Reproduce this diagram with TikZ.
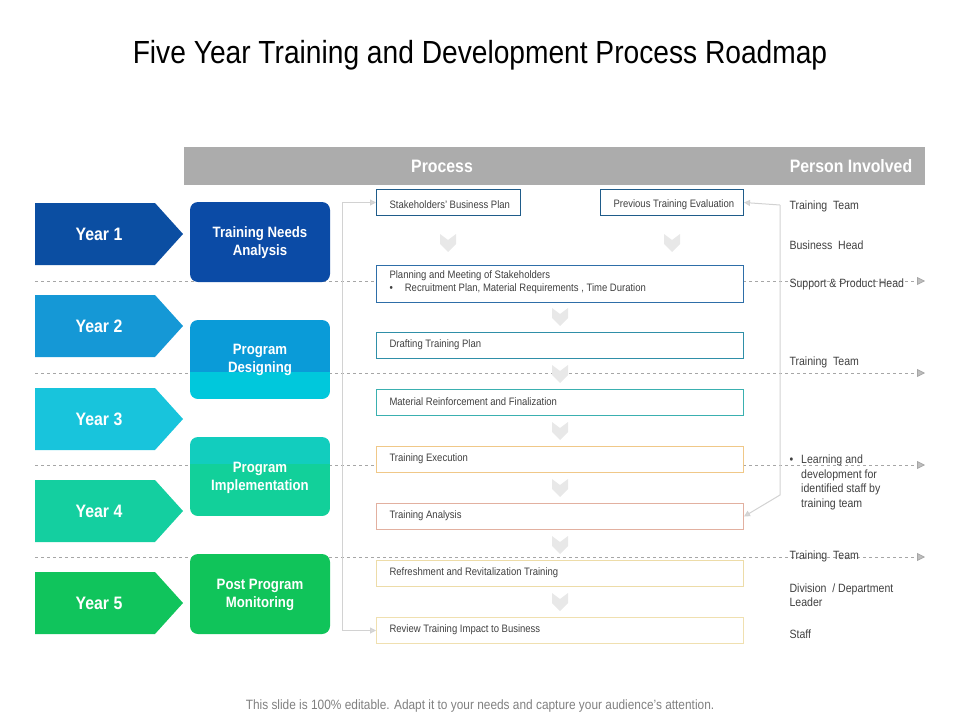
\documentclass[tikz,border=0pt]{standalone}
\usepackage{fontspec}
\setmainfont{Liberation Sans}[FakeStretch=0.88]
\usetikzlibrary{arrows.meta}
\definecolor{txt}{HTML}{404040}
\definecolor{ya}{HTML}{0B4EA2}\definecolor{yb}{HTML}{1598D6}\definecolor{yc}{HTML}{18C4DC}
\definecolor{yd}{HTML}{14CFA0}\definecolor{ye}{HTML}{10C45C}
\definecolor{pa}{HTML}{0B4BA6}\definecolor{pb1}{HTML}{0A9BD8}\definecolor{pb2}{HTML}{00C8DC}
\definecolor{pc1}{HTML}{12CDBE}\definecolor{pc2}{HTML}{12D09A}\definecolor{pd}{HTML}{10C45A}
\definecolor{ba}{HTML}{1F5C8A}\definecolor{bb}{HTML}{2E6EA8}\definecolor{bc}{HTML}{2F8FA8}
\definecolor{bd}{HTML}{3AB0B0}\definecolor{be}{HTML}{F0C888}\definecolor{bf}{HTML}{E2B0A0}
\definecolor{bg}{HTML}{EDDCA8}\definecolor{bh}{HTML}{F0E0B0}
\tikzset{x=1pt,y=-1pt,
 pbox/.style={draw=#1,line width=1pt,fill=white,minimum height=26pt,anchor=north west,inner sep=0pt},
 ptext/.style={font=\fontsize{10.8}{13}\selectfont,text=txt,anchor=west},
 person/.style={font=\fontsize{12}{15}\selectfont,text=txt,anchor=west,align=left},
 dline/.style={dashed,draw=gray!70,line width=0.8pt,-{Triangle[length=8pt,width=8pt,fill=gray!50]}},
 conn/.style={draw=gray!35,line width=1pt,-{Triangle[length=6pt,width=6pt,fill=gray!30]}},
 yr/.style={font=\bfseries\fontsize{18}{20}\selectfont,text=white},
 ph/.style={font=\bfseries\fontsize{15}{18}\selectfont,text=white,align=center}}
\newcommand{\yearshape}[3]{\fill[#2] (35,#1-31) -- (155,#1-31) -- (183,#1) -- (155,#1+31) -- (35,#1+31) -- cycle;
 \node[yr] at (99,#1) {#3};}
\newcommand{\dchev}[2]{\fill[gray!18] (#1-8,#2-9) -- (#1,#2-3) -- (#1+8,#2-9) -- (#1+8,#2+1) -- (#1,#2+9) -- (#1-8,#2+1) -- cycle;}
\begin{document}
\begin{tikzpicture}
\useasboundingbox (0,0) rectangle (960,720);
\node[font=\fontsize{32}{36}\selectfont,text=black] (title) at (480,55) {Five Year Training and Development Process Roadmap};
\fill[gray!65] (184,147) rectangle (925,185);
\node[font=\bfseries\fontsize{18}{20}\selectfont,text=white] (hp) at (442,166) {Process};
\node[font=\bfseries\fontsize{18}{20}\selectfont,text=white] (hpi) at (851,166) {Person Involved};
\foreach \y in {281,373,465,557}{\draw[dline] (35,\y) -- (925,\y);}
\yearshape{234}{ya}{Year 1}
\yearshape{326}{yb}{Year 2}
\yearshape{419}{yc}{Year 3}
\yearshape{511}{yd}{Year 4}
\yearshape{603}{ye}{Year 5}
\fill[rounded corners=8pt,pa] (190,202) rectangle (330,282);
\node[ph] (p1) at (260,243) {Training Needs\\Analysis};
\begin{scope}
\clip[rounded corners=8pt] (190,320) rectangle (330,399);
\fill[pb1] (190,320) rectangle (330,372);
\fill[pb2] (190,372) rectangle (330,399);
\end{scope}
\node[ph] (p2) at (260,360) {Program\\Designing};
\begin{scope}
\clip[rounded corners=8pt] (190,437) rectangle (330,516);
\fill[pc1] (190,437) rectangle (330,464);
\fill[pc2] (190,464) rectangle (330,516);
\end{scope}
\node[ph] (p3) at (260,478) {Program\\Implementation};
\fill[rounded corners=8pt,pd] (190,554) rectangle (330,634);
\node[ph] (p4) at (260,595) {Post Program\\Monitoring};
\dchev{448}{243}\dchev{672}{243}
\foreach \y in {317,374,431,488,545,602}{\dchev{560}{\y}}
\node[pbox=ba,minimum width=144pt] (b1) at (376,189) {};
\node[ptext] at (386,205) {Stakeholders' Business Plan};
\node[pbox=ba,minimum width=143pt] (b2) at (600,189) {};
\node[ptext] at (610,205) {Previous Training Evaluation};
\node[pbox=bb,minimum width=367pt,minimum height=37pt] (b3) at (376,265) {};
\node[ptext] at (386,276) {Planning and Meeting of Stakeholders};
\node[ptext] at (386,289) {\textbullet\hspace{12pt}Recruitment Plan, Material Requirements , Time Duration};
\node[pbox=bc,minimum width=367pt] (b4) at (376,332) {};
\node[ptext] at (386,345) {Drafting Training Plan};
\node[pbox=bd,minimum width=367pt] (b5) at (376,389) {};
\node[ptext] at (386,402) {Material Reinforcement and Finalization};
\node[pbox=be,minimum width=367pt] (b6) at (376,446) {};
\node[ptext] at (386,459) {Training Execution};
\node[pbox=bf,minimum width=367pt] (b7) at (376,503) {};
\node[ptext] at (386,516) {Training Analysis};
\node[pbox=bg,minimum width=367pt] (b8) at (376,560) {};
\node[ptext] at (386,573) {Refreshment and Revitalization Training};
\node[pbox=bh,minimum width=367pt] (b9) at (376,617) {};
\node[ptext] at (386,630) {Review Training Impact to Business};
\draw[conn] (342,630) |- (b1.west);
\draw[conn] (342,500) |- (b9.west);
\coordinate (rt) at (780,205);
\draw[conn] (rt) -- (b2.east);
\draw[conn] (rt) -- (780,495) -- (b7.east);
\node[person] at (786,206) {Training\ \ Team};
\node[person] at (786,245) {Business\ \ Head};
\node[person] at (786,284) {Support \& Product Head};
\node[person] at (786,362) {Training\ \ Team};
\node[person,anchor=north west,font=\fontsize{12}{14.5}\selectfont] at (786,450) {\textbullet\hspace{8pt}\begin{tabular}[t]{@{}l@{}}Learning and\\development for\\identified staff by\\training team\end{tabular}};
\node[person] at (786,556) {Training\ \ Team};
\node[person,font=\fontsize{12}{14.5}\selectfont] at (786,595) {Division\ \ / Department\\Leader};
\node[person] at (786,634) {Staff};
\node[font=\fontsize{13.5}{16}\selectfont,text=gray] (foot) at (480,706) {This slide is 100\% editable. Adapt it to your needs and capture your audience's attention.};
\end{tikzpicture}
\end{document}
